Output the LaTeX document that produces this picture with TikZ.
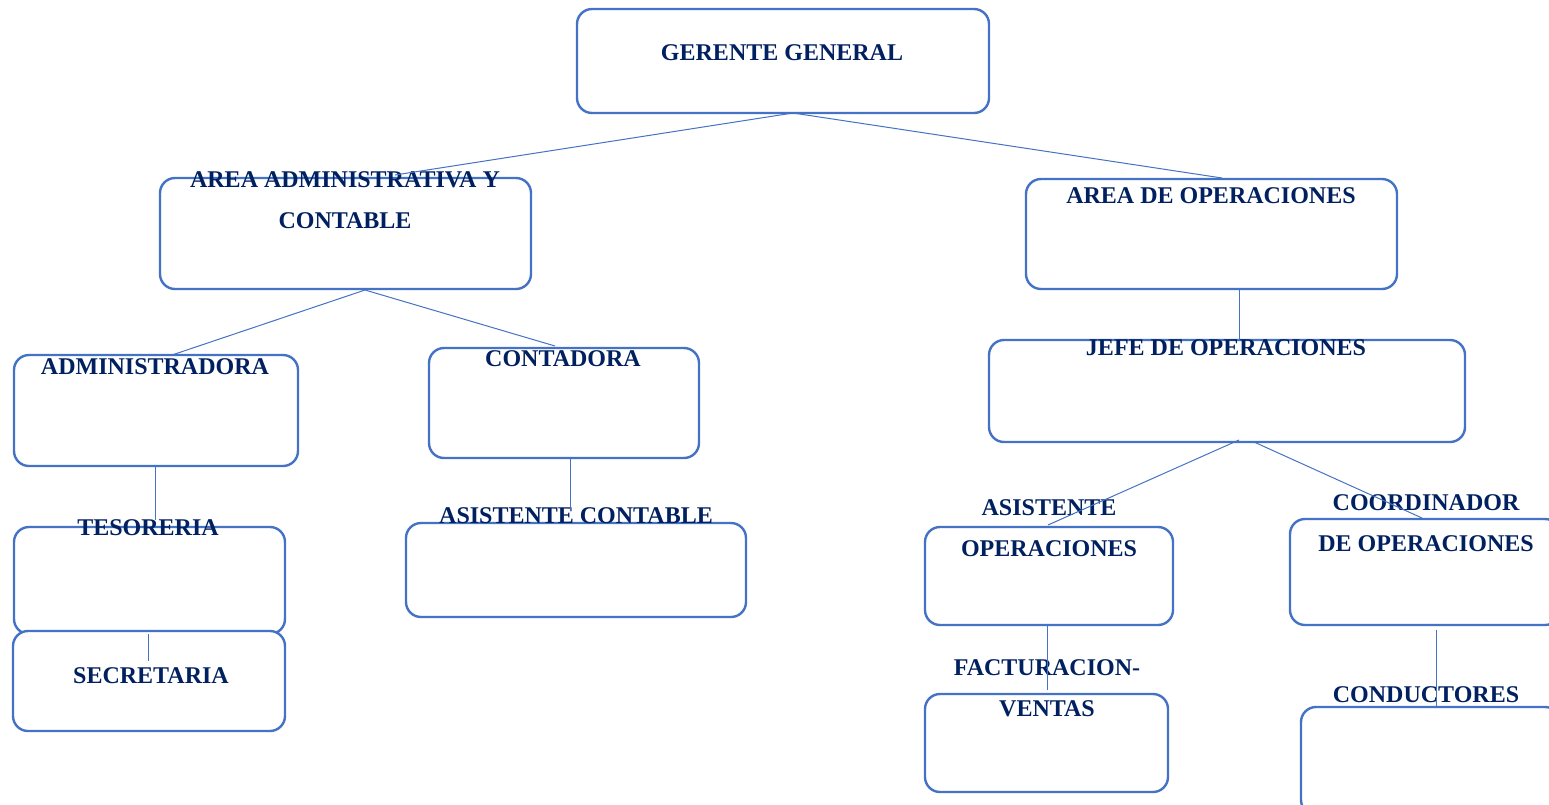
\documentclass[tikz,border=0pt]{standalone}
\usepackage{fontspec}
\setmainfont{Liberation Serif}
\definecolor{boxblue}{HTML}{4472C4}
\definecolor{navy}{HTML}{002060}
\begin{document}
\begin{tikzpicture}[x=1pt,y=-1pt,
  box/.style={draw=boxblue,line width=2.4pt,rounded corners=15pt,fill=white,inner sep=0pt},
  lbl/.style={text=navy,font=\fontsize{24}{41}\selectfont\bfseries,inner sep=0pt,align=center},
  link/.style={draw=boxblue,line width=1pt}]
\useasboundingbox (0,0) rectangle (1549,804);
\clip (0,0) rectangle (1549,804);
% boxes
\node[box,minimum width=412pt,minimum height=104pt] (gg) at (783,61) {};
\node[box,minimum width=371pt,minimum height=111pt] (aa) at (345.5,233.5) {};
\node[box,minimum width=371pt,minimum height=110pt] (ao) at (1211.5,234) {};
\node[box,minimum width=284pt,minimum height=111pt] (adm) at (156,410.5) {};
\node[box,minimum width=270pt,minimum height=110pt] (con) at (564,403) {};
\node[box,minimum width=476pt,minimum height=102pt] (jefe) at (1227,391) {};
\node[box,minimum width=271pt,minimum height=107pt] (tes) at (149.5,580.5) {};
\node[box,minimum width=272pt,minimum height=100pt] (sec) at (149,681) {};
\node[box,minimum width=340pt,minimum height=94pt] (asc) at (576,570) {};
\node[box,minimum width=248pt,minimum height=98pt] (aso) at (1049,576) {};
\node[box,minimum width=270pt,minimum height=106pt] (coor) at (1425,572) {};
\node[box,minimum width=243pt,minimum height=98pt] (fac) at (1046.5,743) {};
\node[box,minimum width=259pt,minimum height=108pt] (cond) at (1430.5,761) {};
% labels
\node[lbl] (tgg) at (782,53) {GERENTE GENERAL};
\node[lbl] (taa) at (345,200.5) {AREA ADMINISTRATIVA Y\\CONTABLE};
\node[lbl] (tao) at (1211,196) {AREA DE OPERACIONES};
\node[lbl] (tadm) at (155,367) {ADMINISTRADORA};
\node[lbl] (tcon) at (563,359) {CONTADORA};
\node[lbl] (tjefe) at (1226,348) {JEFE DE OPERACIONES};
\node[lbl] (ttes) at (148,528) {TESORERIA};
\node[lbl] (tsec) at (151,676) {SECRETARIA};
\node[lbl] (tasc) at (576,516) {ASISTENTE CONTABLE};
\node[lbl] (taso) at (1049,528.5) {ASISTENTE\\OPERACIONES};
\node[lbl] (tcoor) at (1426,523) {COORDINADOR\\DE OPERACIONES};
\node[lbl] (tfac) at (1047,688.5) {FACTURACION-\\VENTAS};
\node[lbl] (tcond) at (1426,695) {CONDUCTORES};
% connector end points
\coordinate (gg1) at (793,113);
\coordinate (aa0) at (395,175);
\coordinate (ao0) at (1222,178);
\coordinate (aa1) at (365,290);
\coordinate (adm0) at (172,355);
\coordinate (con0) at (555,346);
\coordinate (ao1) at (1239,289);
\coordinate (jefe0) at (1239,340);
\coordinate (adm1) at (155,466);
\coordinate (tes0) at (155,520);
\coordinate (con1) at (570,458);
\coordinate (asc0) at (570,510);
\coordinate (jefe1) at (1239,440);
\coordinate (aso0) at (1048,525);
\coordinate (jefe2) at (1254,442);
\coordinate (coor0) at (1422,518);
\coordinate (tes1) at (148,634);
\coordinate (sec0) at (148,661);
\coordinate (aso1) at (1047,625);
\coordinate (fac0) at (1047,690);
\coordinate (coor1) at (1436,630);
\coordinate (cond0) at (1436,707);
% connectors
\draw[link] (gg1) -- (aa0);
\draw[link] (gg1) -- (ao0);
\draw[link] (aa1) -- (adm0);
\draw[link] (aa1) -- (con0);
\draw[link] (ao1) -- (jefe0);
\draw[link] (adm1) -- (tes0);
\draw[link] (con1) -- (asc0);
\draw[link] (jefe1) -- (aso0);
\draw[link] (jefe2) -- (coor0);
\draw[link] (tes1) -- (sec0);
\draw[link] (aso1) -- (fac0);
\draw[link] (coor1) -- (cond0);
\end{tikzpicture}
\end{document}
